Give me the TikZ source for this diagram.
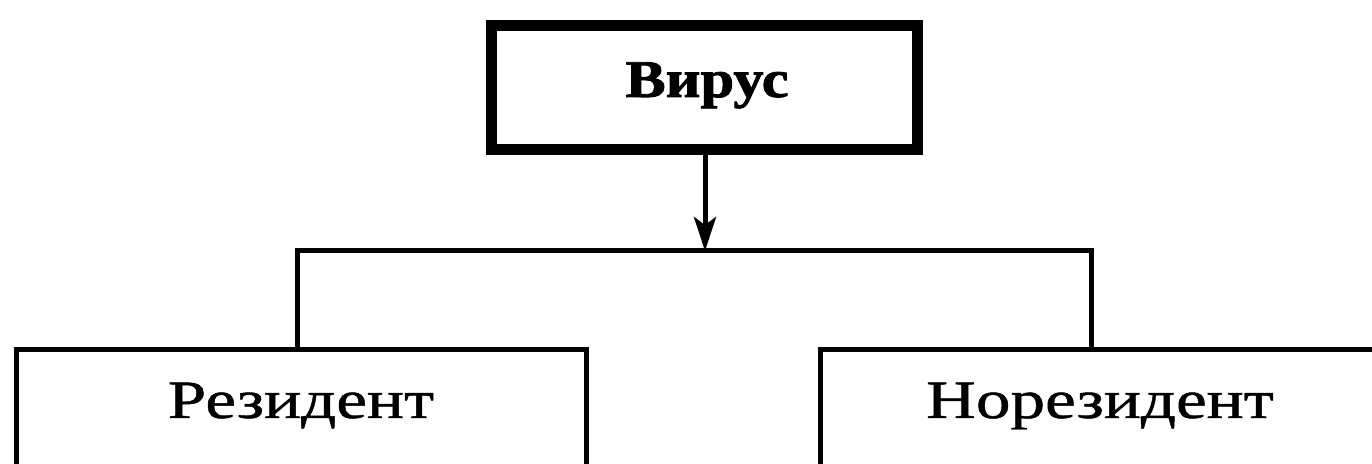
\documentclass[tikz,border=0pt]{standalone}
\usepackage{fontspec}
\setmainfont{Liberation Serif}
\newfontfamily\boxfont[FakeStretch=1.28,FakeBold=0.9]{Liberation Serif}
\newfontfamily\headfont[FakeStretch=1.14,FakeBold=1.6]{Liberation Serif}
\usetikzlibrary{arrows.meta}

\tikzset{
  frame/.style={draw=black, line width=2.5pt, inner sep=0pt, outer sep=0pt,
                rectangle, line join=miter},
  heavyframe/.style={frame, line width=5.5pt},
  caption/.style={anchor=base, inner sep=0pt, text=black},
  wire/.style={draw=black, line width=2.5pt, line join=miter},
  feed/.style={wire, -{Stealth[length=17pt,width=11pt,inset=4pt]}},
}

\begin{document}
\begin{tikzpicture}[x=0.5pt, y=-0.5pt]
  \useasboundingbox[fill=white] (0,0) rectangle (1372,464);
  \clip (0,0) rectangle (1372,464);

  % top box
  \node[heavyframe, minimum width=213pt, minimum height=62pt] (virusbox) at (704,88) {};
  \node[caption, font={\headfont\bfseries\fontsize{26.5pt}{30pt}\selectfont}] (virus) at (707,97) {Вирус};

  % lower boxes (they run off the bottom and right edges)
  \node[frame, minimum width=285pt, minimum height=90pt] (resbox) at (301,440) {};
  \node[caption, font={\boxfont\fontsize{27pt}{31pt}\selectfont}] (res) at (301,418) {Резидент};

  \node[frame, minimum width=290pt, minimum height=90pt] (nonresbox) at (1110,440) {};
  \node[caption, font={\boxfont\fontsize{27pt}{31pt}\selectfont}] (nonres) at (1100,418) {Норезидент};

  % bus
  \coordinate (busL) at (297,251);
  \coordinate (busR) at (1091,251);
  \coordinate (hub) at (705,251);

  \draw[feed] (virusbox.south -| hub) -- (hub);
  \draw[wire] (resbox.north -| busL) -- (busL) -- (busR) -- (nonresbox.north -| busR);
\end{tikzpicture}
\end{document}
